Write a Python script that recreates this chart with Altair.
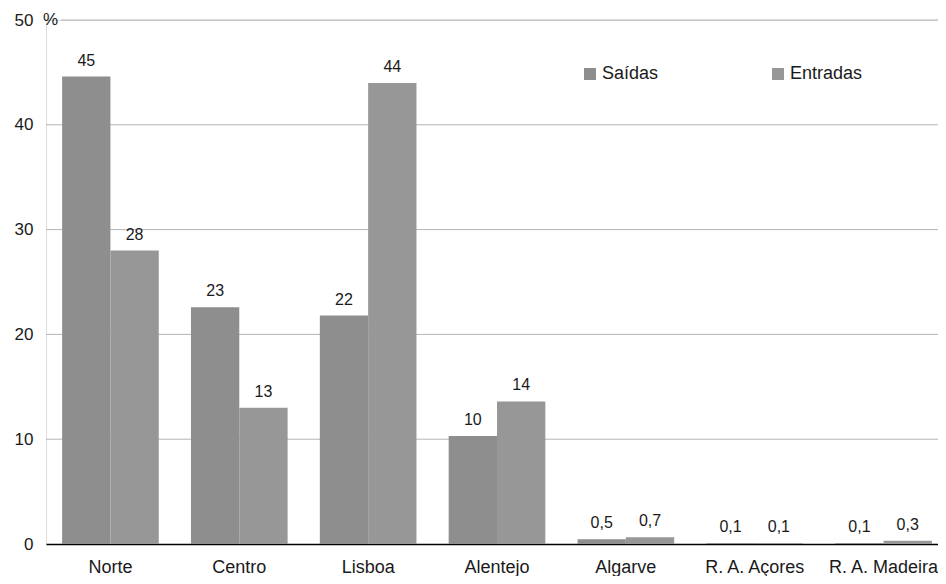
import altair as alt
import pandas as pd

regions = ["Norte", "Centro", "Lisboa", "Alentejo", "Algarve", "R. A. Açores", "R. A. Madeira"]
series = ["Saídas", "Entradas"]
saidas = [44.6, 22.6, 21.8, 10.3, 0.45, 0.1, 0.1]
entradas = [28.0, 13.0, 44.0, 13.6, 0.65, 0.1, 0.3]
labels_saidas = ["45", "23", "22", "10", "0,5", "0,1", "0,1"]
labels_entradas = ["28", "13", "44", "14", "0,7", "0,1", "0,3"]
y_ticks = [0, 10, 20, 30, 40, 50]
grid_vals = [10, 20, 30, 40, 50]
colors = ["#8e8e8e", "#979797"]

rows = []
for r, v, l in zip(regions, saidas, labels_saidas):
    rows.append({"region": r, "series": "Saídas", "value": v, "label": l})
for r, v, l in zip(regions, entradas, labels_entradas):
    rows.append({"region": r, "series": "Entradas", "value": v, "label": l})
df = pd.DataFrame(rows)
grid_df = pd.DataFrame({"v": grid_vals})

FONT = "Liberation Sans"
TXT = "#1a1a1a"

yscale = alt.Scale(domain=[0, 50], nice=False, zero=True)
xscale = alt.Scale(domain=regions, range=[0, 902], paddingInner=0.25, paddingOuter=0.125)

grid = alt.Chart(grid_df).transform_calculate(
    x0="datum.v == 50 ? 15 : 0", x1="1000"
).mark_rule(color="#b4b4b4", strokeWidth=1).encode(
    y=alt.Y("v:Q", scale=yscale),
    x=alt.X("x0:Q", scale=None),
    x2=alt.X2("x1:Q"),
)

bars = alt.Chart(df).mark_bar().encode(
    x=alt.X("region:N", scale=xscale, sort=regions,
            axis=alt.Axis(title=None, labelAngle=0, domain=True, domainColor="#000000",
                          domainWidth=1.5, ticks=False, labelPadding=14,
                          labelFontSize=18, labelColor=TXT, labelFont=FONT)),
    xOffset=alt.XOffset("series:N", sort=series,
                        scale=alt.Scale(paddingInner=0, paddingOuter=0)),
    y=alt.Y("value:Q", scale=yscale,
            axis=alt.Axis(title=None, values=y_ticks, grid=False, domain=False, ticks=False,
                          labelPadding=13, labelFontSize=17, labelColor=TXT, labelFont=FONT)),
    color=alt.Color("series:N", sort=series,
                    scale=alt.Scale(domain=series, range=colors),
                    legend=alt.Legend(title=None, orient="none", legendX=535, legendY=45,
                                      direction="horizontal", columns=2, symbolType="square",
                                      symbolSize=144, symbolStrokeWidth=0, labelFontSize=18,
                                      labelFont=FONT, labelColor=TXT, labelOffset=3,
                                      columnPadding=110, padding=0)),
)

text = alt.Chart(df).mark_text(baseline="alphabetic", dy=-11, fontSize=16, font=FONT,
                               color=TXT).encode(
    x=alt.X("region:N", scale=xscale, sort=regions),
    xOffset=alt.XOffset("series:N", sort=series),
    y=alt.Y("value:Q", scale=yscale),
    text="label:N",
)

pct = alt.Chart(pd.DataFrame({"t": ["%"]})).mark_text(
    align="left", baseline="middle", fontSize=17, font=FONT, color=TXT
).encode(x=alt.value(-3), y=alt.value(0), text="t:N")

chart = alt.layer(grid, bars, text, pct).properties(
    width=892, height=524,
    autosize=alt.AutoSizeParams(type="none"),
    padding={"left": 38, "top": 12, "right": 0, "bottom": 32},
).configure_view(stroke=None).configure(font=FONT)

chart.save("out.html", embed_options={"renderer": "svg", "actions": False})
